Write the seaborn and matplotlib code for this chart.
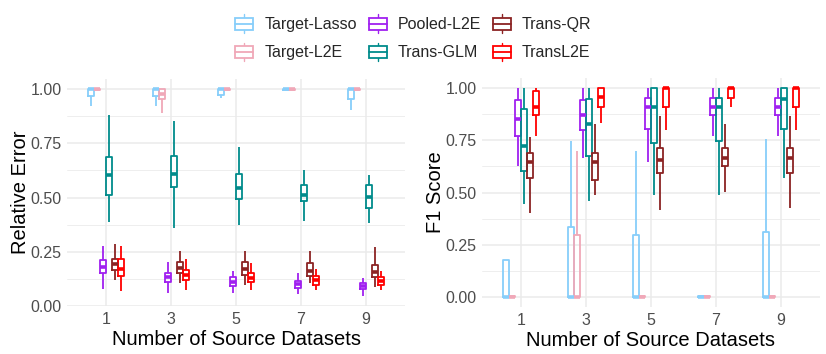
import numpy as np
import pandas as pd
import matplotlib
matplotlib.use("Agg")
import matplotlib.pyplot as plt
import seaborn as sns
from matplotlib.patches import Patch, Rectangle
from matplotlib.lines import Line2D
from matplotlib.legend_handler import HandlerBase
from matplotlib.ticker import MultipleLocator

# number of source datasets
k_values = ["1", "3", "5", "7", "9"]
methods = ["Target-Lasso", "Target-L2E", "Pooled-L2E", "Trans-GLM", "Trans-QR", "TransL2E"]
colors = ["#87CEFA", "#F0A8B8", "#A020F0", "#008B8B", "#8B2323", "#FF0000"]

# five-number summaries (low whisker, q1, median, q3, high whisker) per k
# Relative Error
re_target_lasso = [[0.921, 0.968, 1.0, 1.0, 1.0], [0.921, 0.968, 1.0, 1.0, 1.0],
                   [0.960, 0.971, 1.0, 1.0, 1.0], [0.994, 0.997, 1.0, 1.0, 1.0],
                   [0.903, 0.955, 1.0, 1.0, 1.0]]
re_target_l2e = [[0.994, 0.997, 1.0, 1.0, 1.0], [0.890, 0.955, 0.980, 1.0, 1.0],
                 [0.994, 0.997, 1.0, 1.0, 1.0], [0.994, 0.997, 1.0, 1.0, 1.0],
                 [0.994, 0.997, 1.0, 1.0, 1.0]]
re_pooled_l2e = [[0.080, 0.153, 0.180, 0.210, 0.278], [0.060, 0.111, 0.134, 0.154, 0.204],
                 [0.062, 0.093, 0.111, 0.134, 0.160], [0.054, 0.085, 0.100, 0.117, 0.153],
                 [0.046, 0.077, 0.093, 0.108, 0.127]]
re_trans_glm = [[0.386, 0.512, 0.602, 0.685, 0.883], [0.361, 0.551, 0.608, 0.690, 0.852],
                [0.375, 0.495, 0.542, 0.608, 0.735], [0.390, 0.483, 0.511, 0.556, 0.628],
                [0.384, 0.452, 0.502, 0.557, 0.605]]
re_trans_qr = [[0.119, 0.168, 0.196, 0.219, 0.284], [0.108, 0.153, 0.177, 0.204, 0.253],
               [0.096, 0.142, 0.170, 0.201, 0.253], [0.108, 0.140, 0.162, 0.199, 0.253],
               [0.088, 0.134, 0.157, 0.191, 0.270]]
re_transl2e = [[0.068, 0.139, 0.173, 0.216, 0.278], [0.076, 0.119, 0.145, 0.168, 0.216],
               [0.073, 0.110, 0.130, 0.150, 0.198], [0.073, 0.099, 0.119, 0.140, 0.170],
               [0.073, 0.099, 0.117, 0.134, 0.160]]

# F1 Score
f1_target_lasso = [[0.0, 0.0, 0.0, 0.178, 0.178], [0.0, 0.0, 0.0, 0.333, 0.747],
                   [0.0, 0.0, 0.0, 0.295, 0.699], [0.0, 0.0, 0.0, 0.003, 0.005],
                   [0.0, 0.0, 0.0, 0.311, 0.758]]
f1_target_l2e = [[0.0, 0.0, 0.0, 0.003, 0.005], [0.0, 0.0, 0.0, 0.295, 0.697],
                 [0.0, 0.0, 0.0, 0.003, 0.005], [0.0, 0.0, 0.0, 0.003, 0.005],
                 [0.0, 0.0, 0.0, 0.003, 0.005]]
f1_pooled_l2e = [[0.627, 0.769, 0.851, 0.942, 1.0], [0.667, 0.800, 0.872, 0.942, 1.0],
                 [0.646, 0.806, 0.907, 0.950, 1.0], [0.771, 0.870, 0.907, 0.950, 1.0],
                 [0.771, 0.870, 0.907, 0.950, 1.0]]
f1_trans_glm = [[0.446, 0.601, 0.723, 0.899, 1.0], [0.458, 0.673, 0.830, 0.946, 1.0],
                [0.489, 0.739, 0.907, 1.0, 1.0], [0.489, 0.747, 0.907, 0.950, 1.0],
                [0.571, 0.806, 0.947, 1.0, 1.0]]
f1_trans_qr = [[0.402, 0.571, 0.646, 0.689, 0.766], [0.489, 0.558, 0.646, 0.689, 0.830],
               [0.418, 0.593, 0.657, 0.713, 0.867], [0.502, 0.625, 0.667, 0.713, 0.830],
               [0.426, 0.593, 0.667, 0.713, 0.867]]
f1_transl2e = [[0.769, 0.870, 0.910, 0.987, 1.0], [0.833, 0.910, 0.955, 1.0, 1.0],
               [0.801, 0.910, 1.0, 1.0, 1.0], [0.910, 0.950, 1.0, 1.0, 1.0],
               [0.801, 0.907, 1.0, 1.0, 1.0]]

re_data = [re_target_lasso, re_target_l2e, re_pooled_l2e, re_trans_glm, re_trans_qr, re_transl2e]
f1_data = [f1_target_lasso, f1_target_l2e, f1_pooled_l2e, f1_trans_glm, f1_trans_qr, f1_transl2e]


def to_long(series):
    rows = []
    for method, per_k in zip(methods, series):
        for k, summary in zip(k_values, per_k):
            for v in summary:
                rows.append((k, method, v))
    return pd.DataFrame(rows, columns=["k", "Method", "value"])


class BoxKeyHandler(HandlerBase):
    # ggplot-like boxplot legend key
    def create_artists(self, legend, orig_handle, xdescent, ydescent,
                       width, height, fontsize, trans):
        c = orig_handle.get_edgecolor()
        x0, y0 = -xdescent, -ydescent
        cx = x0 + width / 2
        bw = width * 0.95
        b0, b1 = y0 + height * 0.18, y0 + height * 0.82
        whisk = Line2D([cx, cx], [y0, y0 + height], color=c, lw=1.0, transform=trans)
        box = Rectangle((cx - bw / 2, b0), bw, b1 - b0, facecolor="white",
                        edgecolor=c, lw=1.3, transform=trans)
        med = Line2D([cx - bw / 2, cx + bw / 2], [y0 + height / 2] * 2, color=c,
                     lw=1.3, transform=trans)
        return [whisk, box, med]


sns.set_theme(style="white")
plt.rcParams["font.family"] = ["Liberation Sans", "DejaVu Sans"]

fig = plt.figure(figsize=(8.26, 3.54), dpi=100)
ax1 = fig.add_axes([67 / 826, 0.1345, 338 / 826, 0.643])
ax2 = fig.add_axes([482 / 826, 0.1315, 338 / 826, 0.6494])

panels = [(ax1, re_data, "Relative Error", (-0.0017, 1.048)),
          (ax2, f1_data, "F1 Score", (-0.05, 1.05))]

for ax, series, ylabel, ylim in panels:
    df = to_long(series)
    sns.boxplot(data=df, x="k", y="value", hue="Method", hue_order=methods,
                order=k_values, palette=colors, fill=False, whis=(0, 100),
                width=0.56, gap=0.08, linewidth=1.3, showcaps=False,
                medianprops=dict(linewidth=2.6), legend=False, ax=ax)
    ax.set_xlim(-0.6, 4.6)
    ax.set_ylim(*ylim)
    ax.yaxis.set_major_locator(MultipleLocator(0.25))
    ax.yaxis.set_minor_locator(MultipleLocator(0.125))
    ax.set_yticks([0, 0.25, 0.5, 0.75, 1.0])
    ax.set_yticklabels(["0.00", "0.25", "0.50", "0.75", "1.00"])
    ax.grid(which="major", color="#EBEBEB", lw=1.1)
    ax.grid(which="minor", axis="y", color="#EBEBEB", lw=0.6)
    ax.set_axisbelow(True)
    for s in ax.spines.values():
        s.set_visible(False)
    ax.tick_params(axis="both", which="both", length=0, labelsize=11.5,
                   labelcolor="#4D4D4D", pad=4)
    ax.set_xlabel("Number of Source Datasets", fontsize=14.5, color="black", labelpad=2)
    ax.set_ylabel(ylabel, fontsize=14.5, color="black", labelpad=0.5)

handles = [Patch(edgecolor=c, facecolor="none") for c in colors]
fig.legend(handles, methods, ncol=3, loc="upper center", bbox_to_anchor=(0.5, 1.0),
           frameon=False, fontsize=11.5, handlelength=1.2, handleheight=1.4,
           handletextpad=0.65, labelspacing=0.63, columnspacing=0.7,
           handler_map={Patch: BoxKeyHandler()})

fig.savefig("out.png", dpi=100)
